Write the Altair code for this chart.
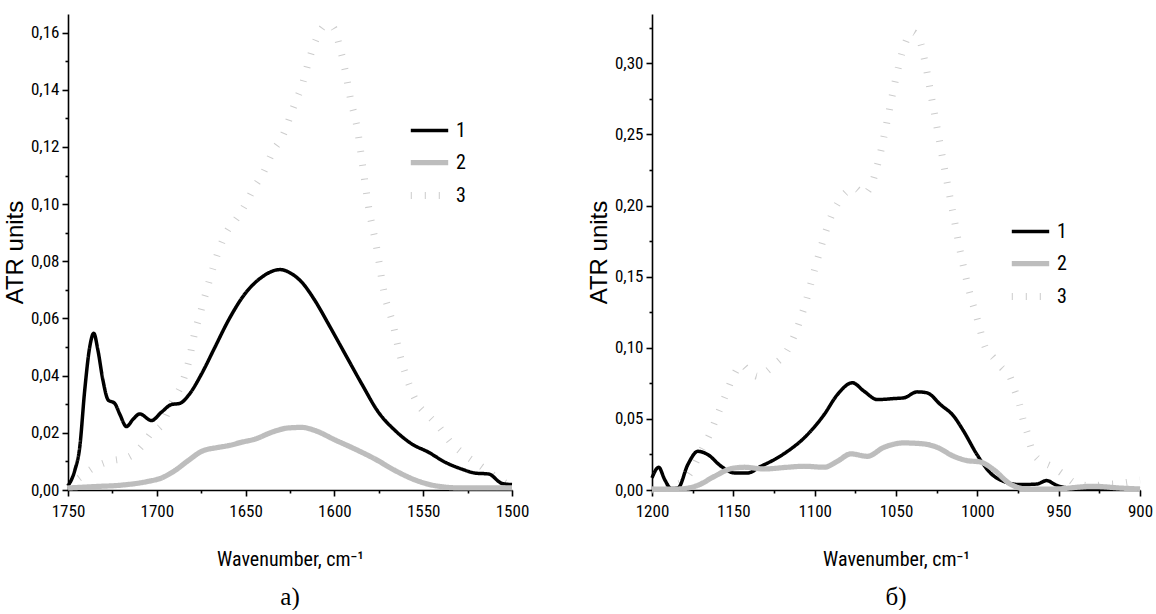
import altair as alt
import pandas as pd

# ---------------- data: panel a) ----------------
a1_wn = [1750, 1746.2, 1743.4, 1740.6, 1737.8, 1735.5, 1733.1, 1730.3, 1727.4, 1723.7, 1720.9, 1717.1,
         1713.3, 1709.6, 1703, 1697.4, 1691.7, 1687, 1682.3, 1674.8, 1667.3, 1659.8, 1650.4, 1641,
         1630.6, 1624, 1618.4, 1610.9, 1603.4, 1594, 1584.6, 1575.2, 1565.8, 1556.4, 1547, 1537.6,
         1528.2, 1520.7, 1513.2, 1505.6, 1500]
a1_v = [0.0015, 0.0068, 0.0149, 0.0348, 0.0499, 0.0548, 0.0487, 0.0383, 0.0315, 0.0303, 0.0266, 0.0222,
        0.0248, 0.0266, 0.0243, 0.0272, 0.0299, 0.0303, 0.033, 0.0406, 0.0499, 0.0592, 0.0686, 0.0744,
        0.0771, 0.0756, 0.0727, 0.0662, 0.0581, 0.0476, 0.0371, 0.0272, 0.0208, 0.0161, 0.0132, 0.0097,
        0.0073, 0.0059, 0.0056, 0.0023, 0.0019]

a2_wn = [1750, 1735, 1720, 1705, 1697.4, 1689.8, 1682.3, 1674.8, 1665.4, 1659.8, 1652.3, 1644.7, 1635.3,
         1626, 1618.4, 1610.9, 1599.6, 1588.3, 1577, 1565.8, 1554.5, 1543.2, 1528.2, 1500]
a2_v = [0.0007, 0.0012, 0.0017, 0.003, 0.0042, 0.0068, 0.0103, 0.0135, 0.0149, 0.0155, 0.0167, 0.0178,
        0.0202, 0.0217, 0.0219, 0.0208, 0.0175, 0.0143, 0.0108, 0.0068, 0.0035, 0.0015, 0.0007, 0.0007]

a3_wn = [1750, 1742, 1735, 1727, 1716, 1709, 1703, 1697, 1692, 1686, 1682, 1679, 1675, 1671, 1665, 1660,
         1655, 1650, 1645, 1640, 1635, 1629, 1623, 1618, 1614, 1610, 1605, 1601, 1597, 1594, 1591, 1587,
         1584, 1581, 1576, 1572, 1567, 1563, 1558, 1553, 1547, 1541, 1535, 1527, 1519, 1510, 1500]
a3_v = [0.001, 0.005, 0.008, 0.010, 0.0115, 0.015, 0.020, 0.023, 0.030, 0.037, 0.045, 0.054, 0.063, 0.072,
        0.084, 0.091, 0.095, 0.100, 0.106, 0.111, 0.118, 0.124, 0.134, 0.142, 0.151, 0.158, 0.1625, 0.162,
        0.155, 0.147, 0.137, 0.126, 0.113, 0.100, 0.084, 0.069, 0.058, 0.047, 0.037, 0.030, 0.026, 0.022,
        0.017, 0.0125, 0.009, 0.005, 0.001]

# ---------------- data: panel б) ----------------
b1_wn = [1200, 1195.9, 1192.2, 1188.2, 1184, 1178, 1171.8, 1165.7, 1157.5, 1149.3, 1141.2, 1133, 1124.8,
         1116.7, 1106.5, 1094.2, 1086, 1076.8, 1069.7, 1061.5, 1051.3, 1045.2, 1037, 1030.9, 1022.7,
         1014.5, 1008.4, 1000.2, 992, 983.9, 973.7, 963.5, 957.4, 951.2, 943.1, 922.6, 900]
b1_v = [0.0085, 0.016, 0.0073, 0.001, 0.0014, 0.0178, 0.0272, 0.0249, 0.0167, 0.012, 0.012, 0.0167, 0.0214,
        0.0272, 0.0366, 0.053, 0.0671, 0.0754, 0.0695, 0.0636, 0.0643, 0.0648, 0.069, 0.0683, 0.0601,
        0.0519, 0.0413, 0.0249, 0.012, 0.0061, 0.0038, 0.0042, 0.0066, 0.0033, 0.0014, 0.0014, 0.0007]

b2_wn = [1200, 1184, 1171.8, 1161.6, 1151.4, 1143.2, 1131, 1116.7, 1106.5, 1094.2, 1086, 1077.8, 1067.6,
         1057.4, 1045.2, 1032.9, 1024.7, 1014.5, 1006.4, 998.2, 990, 979.8, 969.6, 953.3, 928.8, 912.4, 900]
b2_v = [0.0007, 0.0007, 0.0033, 0.0096, 0.015, 0.016, 0.0148, 0.016, 0.0167, 0.016, 0.0202, 0.0254, 0.0237,
        0.03, 0.0331, 0.0324, 0.03, 0.0237, 0.0207, 0.0197, 0.0143, 0.0042, 0.0007, 0.0007, 0.0026, 0.0014,
        0.0007]

b3_wn = [1200, 1190, 1180, 1175, 1170, 1165, 1160, 1155, 1150, 1145, 1140, 1135, 1130, 1125, 1118, 1112,
         1106, 1100, 1095, 1090, 1085, 1080, 1075, 1070, 1065, 1060, 1055, 1050, 1045, 1040, 1036, 1032,
         1028, 1024, 1020, 1015, 1010, 1005, 1000, 995, 990, 985, 980, 977, 974, 972, 969, 967, 962, 955,
         947, 940, 930, 920, 910, 900]
b3_v = [0.000, 0.002, 0.007, 0.015, 0.027, 0.038, 0.052, 0.066, 0.080, 0.088, 0.083, 0.080, 0.083, 0.088,
        0.096, 0.110, 0.130, 0.155, 0.175, 0.192, 0.203, 0.210, 0.212, 0.208, 0.215, 0.235, 0.262, 0.290,
        0.312, 0.322, 0.318, 0.300, 0.275, 0.250, 0.225, 0.195, 0.165, 0.140, 0.120, 0.100, 0.093, 0.086,
        0.080, 0.070, 0.060, 0.050, 0.039, 0.030, 0.021, 0.017, 0.011, 0.005, 0.003, 0.004, 0.005, 0.007]

series_names = ["1", "2", "3"]

NARROW = "Liberation Sans Narrow, Arial Narrow, Roboto Condensed, DejaVu Sans Condensed, sans-serif"
SANS = "Liberation Sans, Arial, sans-serif"
SERIF = "Liberation Serif, Times New Roman, serif"


def frame(pairs):
    rows = []
    for name, wn, v in pairs:
        for w, val in zip(wn, v):
            rows.append({"wn": w, "v": val, "series": name})
    return pd.DataFrame(rows)


def panel(df, xdom, ydom, xvals, yvals, xmajor, ymajor, width, height, lx, ly, caption):
    legend = alt.Legend(orient="none", legendX=lx, legendY=ly, symbolType="stroke", symbolSize=1400,
                        labelFont=NARROW, labelFontSize=20, labelColor="black", rowPadding=-9,
                        labelOffset=4, title=None)
    x = alt.X("wn:Q", title="Wavenumber, cm\u207b\u00b9",
              scale=alt.Scale(domain=xdom, reverse=True, nice=False, zero=False),
              axis=alt.Axis(values=xvals, format="d", labelFlush=False, labelOverlap=False,
                            labelExpr=f"{xmajor} ? datum.label : ''",
                            tickSize={"condition": {"test": xmajor, "value": 6}, "value": 3},
                            titleFont=NARROW, titleFontSize=20, titleFontWeight="normal",
                            titlePadding=30, labelPadding=7))
    y = alt.Y("v:Q", title="ATR units",
              scale=alt.Scale(domain=ydom, nice=False, zero=True),
              axis=alt.Axis(values=yvals, format=".2f", labelFlush=False, labelOverlap=False,
                            labelExpr=f"{ymajor} ? replace(datum.label, '.', ',') : ''",
                            tickSize={"condition": {"test": ymajor, "value": 6}, "value": 3},
                            titleFont=SANS, titleFontSize=24, titleFontWeight="normal",
                            titlePadding=3, labelPadding=3))
    color = alt.Color("series:N", scale=alt.Scale(domain=series_names, range=["#000000", "#bdbdbd", "#cccccc"]),
                      legend=legend)
    dash = alt.StrokeDash("series:N", scale=alt.Scale(domain=series_names, range=[[1, 0], [1, 0], [1, 13]]),
                          legend=legend)
    sw = alt.StrokeWidth("series:N", scale=alt.Scale(type="point", domain=series_names, range=[3.5, 7], padding=0),
                         legend=legend)
    layers = []
    for s in ["3", "1", "2"]:
        layers.append(
            alt.Chart(df).transform_filter(alt.datum.series == s)
            .mark_line(interpolate="monotone")
            .encode(x=x, y=y, color=color, strokeDash=dash, strokeWidth=sw)
        )
    return alt.layer(*layers).properties(
        width=width, height=height,
        title=alt.TitleParams(caption, orient="bottom", font=SERIF, fontSize=25, fontWeight="normal",
                              color="black", offset=16, anchor="middle")
    )


df_a = frame([("1", a1_wn, a1_v), ("2", a2_wn, a2_v), ("3", a3_wn, a3_v)])
df_b = frame([("1", b1_wn, b1_v), ("2", b2_wn, b2_v), ("3", b3_wn, b3_v)])

xa_vals = [1750 - 25 * i for i in range(11)]
ya_vals = [round(0.01 * i, 2) for i in range(17)]
xb_vals = [1200 - 25 * i for i in range(13)]
yb_vals = [round(0.025 * i, 3) for i in range(14)]

left = panel(df_a, [1500, 1750], [0, 0.1665], xa_vals, ya_vals,
             "(datum.value % 50 === 0)", "(round(datum.value*100) % 2 === 0)",
             444, 476, 339, 96, "\u0430)")
right = panel(df_b, [900, 1200], [0, 0.3347], xb_vals, yb_vals,
              "(datum.value % 50 === 0)", "(round(datum.value*1000) % 50 === 0)",
              488, 476, 356, 197, "\u0431)")

chart = alt.hconcat(left, right, spacing=58).resolve_scale(
    color="independent", strokeDash="independent", strokeWidth="independent"
).resolve_legend(color="independent", strokeDash="independent", strokeWidth="independent").properties(
    padding={"left": 3, "top": 11, "right": 0, "bottom": 0}, background="white"
).configure_view(stroke=None).configure_axis(
    grid=False, domain=True, domainColor="black", domainWidth=1.6, tickColor="black", tickWidth=1.6,
    labelFont=NARROW, labelFontSize=17, labelColor="black", titleColor="black"
)

chart.save("out.html", embed_options={"renderer": "svg", "actions": False})
